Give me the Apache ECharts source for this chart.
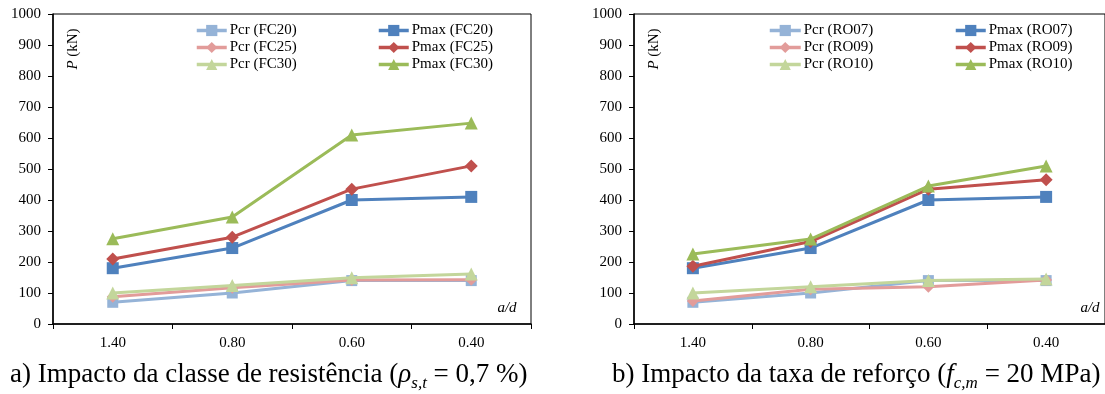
<!DOCTYPE html>
<html>
<head>
<meta charset="utf-8">
<script src="https://cdn.jsdelivr.net/npm/echarts@6/dist/echarts.min.js"></script>
<style>
html,body{margin:0;padding:0;background:#fff;}
#chart{width:1105px;height:394px;}
</style>
</head>
<body>
<div id="chart"></div>
<script>
// ---- data ----
const categories = ['1.40', '0.80', '0.60', '0.40'];
const yMin = 0, yMax = 1000, yInterval = 100;

// Chart a) strength class
const namesA = ['Pcr (FC20)', 'Pmax (FC20)', 'Pcr (FC25)', 'Pmax (FC25)', 'Pcr (FC30)', 'Pmax (FC30)'];
const pcrFC20  = [70, 100, 140, 140];
const pmaxFC20 = [180, 245, 400, 410];
const pcrFC25  = [88, 117, 142, 143];
const pmaxFC25 = [210, 280, 435, 510];
const pcrFC30  = [100, 124, 149, 161];
const pmaxFC30 = [275, 345, 610, 648];

// Chart b) reinforcement ratio
const namesB = ['Pcr (RO07)', 'Pmax (RO07)', 'Pcr (RO09)', 'Pmax (RO09)', 'Pcr (RO10)', 'Pmax (RO10)'];
const pcrRO07  = [70, 100, 140, 140];
const pmaxRO07 = [180, 245, 400, 410];
const pcrRO09  = [74, 112, 120, 142];
const pmaxRO09 = [186, 266, 435, 465];
const pcrRO10  = [100, 120, 140, 145];
const pmaxRO10 = [226, 274, 445, 510];

const captionA = '{n|a) Impacto da classe de resistência (}{i|ρ}{s|s,t}{n| = 0,7 %)}';
const captionB = '{n|b) Impacto da taxa de reforço (}{i|f}{s|c,m}{n| = 20 MPa)}';

// ---- styles ----
const FONT = '"Liberation Serif", "Times New Roman", serif';
const styles = [
  {color: '#95B3D7', symbol: 'rect', size: 11},
  {color: '#4F81BD', symbol: 'rect', size: 12},
  {color: '#E29C9A', symbol: 'diamond', size: 12},
  {color: '#C0504D', symbol: 'diamond', size: 13},
  {color: '#C3D69B', symbol: 'triangle', size: 13},
  {color: '#9BBB59', symbol: 'triangle', size: 13}
];

function mkSeries(names, datas, gi) {
  return names.map((n, i) => ({
    name: n, type: 'line', xAxisIndex: gi, yAxisIndex: gi,
    data: datas[i],
    symbol: styles[i].symbol, symbolSize: styles[i].size,
    showAllSymbol: true,
    lineStyle: {color: styles[i].color, width: 3},
    itemStyle: {color: styles[i].color},
    emphasis: {disabled: true},
    z: 2 + i,
    animation: false
  }));
}

function xAx(gi) {
  return {
    type: 'category', gridIndex: gi, data: categories, boundaryGap: true,
    axisLine: {lineStyle: {color: '#000', width: 1.5}},
    axisTick: {show: true, inside: false, length: 5, lineStyle: {color: '#000', width: 1}},
    axisLabel: {color: '#000', fontFamily: FONT, fontSize: 15, margin: 12}
  };
}
function yAx(gi) {
  return {
    type: 'value', gridIndex: gi, min: yMin, max: yMax, interval: yInterval,
    axisLine: {show: true, lineStyle: {color: '#000', width: 1.5}},
    axisTick: {show: true, inside: false, length: 5, lineStyle: {color: '#000', width: 1}},
    axisLabel: {color: '#000', fontFamily: FONT, fontSize: 15, margin: 12, formatter: v => String(v)},
    splitLine: {show: false}
  };
}
function legend(data, left, itemWidth) {
  return {
    data: data, orient: 'vertical', left: left, top: 23,
    itemWidth: itemWidth, itemHeight: 14, itemGap: 2,
    selectedMode: false,
    lineStyle: {width: 3.5},
    textStyle: {color: '#000', fontFamily: FONT, fontSize: 15, padding: [0, 0, 0, -2]},
    padding: 0
  };
}
const capRich = {
  n: {fontFamily: FONT, fontSize: 27, fontWeight: 'normal', color: '#000', lineHeight: 34},
  i: {fontFamily: FONT, fontSize: 27, fontWeight: 'normal', fontStyle: 'italic', color: '#000', lineHeight: 34},
  s: {fontFamily: FONT, fontSize: 17, fontWeight: 'normal', fontStyle: 'italic', color: '#000', lineHeight: 17, verticalAlign: 'bottom'}
};
const pRich = {
  i: {fontFamily: FONT, fontSize: 15, fontStyle: 'italic', fill: '#000'},
  n: {fontFamily: FONT, fontSize: 15, fill: '#000'}
};

const chart = echarts.init(document.getElementById('chart'), null, {renderer: 'canvas'});
chart.setOption({
  animation: false,
  backgroundColor: '#fff',
  grid: [
    {left: 53, top: 14, width: 478, height: 310, show: true, borderColor: '#000', borderWidth: 1, backgroundColor: 'transparent'},
    {left: 634, top: 14, width: 478, height: 310, show: true, borderColor: '#000', borderWidth: 1, backgroundColor: 'transparent'}
  ],
  xAxis: [xAx(0), xAx(1)],
  yAxis: [yAx(0), yAx(1)],
  legend: [
    legend([namesA[0], namesA[2], namesA[4]], 195, 30),
    legend([namesA[1], namesA[3], namesA[5]], 377, 30),
    legend([namesB[0], namesB[2], namesB[4]], 768, 31),
    legend([namesB[1], namesB[3], namesB[5]], 954, 30)
  ],
  title: [
    {text: captionA, left: 10, top: 358, padding: 0, textStyle: {fontWeight: 'normal', fontFamily: FONT, rich: capRich}},
    {text: captionB, left: 612, top: 358, padding: 0, textStyle: {fontWeight: 'normal', fontFamily: FONT, rich: capRich}}
  ],
  graphic: [
    {type: 'text', x: 73, y: 49, rotation: Math.PI / 2,
     style: {text: '{i|P} (kN)', rich: pRich, fontFamily: FONT, fontSize: 15, fill: '#000', align: 'center', verticalAlign: 'middle'}},
    {type: 'text', x: 654, y: 49, rotation: Math.PI / 2,
     style: {text: '{i|P} (kN)', rich: pRich, fontFamily: FONT, fontSize: 15, fill: '#000', align: 'center', verticalAlign: 'middle'}},
    {type: 'text', x: 507, y: 308,
     style: {text: 'a/d', fontFamily: FONT, fontSize: 15, fontStyle: 'italic', fill: '#000', align: 'center', verticalAlign: 'middle'}},
    {type: 'text', x: 1090, y: 308,
     style: {text: 'a/d', fontFamily: FONT, fontSize: 15, fontStyle: 'italic', fill: '#000', align: 'center', verticalAlign: 'middle'}}
  ],
  series: [].concat(
    mkSeries(namesA, [pcrFC20, pmaxFC20, pcrFC25, pmaxFC25, pcrFC30, pmaxFC30], 0),
    mkSeries(namesB, [pcrRO07, pmaxRO07, pcrRO09, pmaxRO09, pcrRO10, pmaxRO10], 1)
  )
});
</script>
</body>
</html>
